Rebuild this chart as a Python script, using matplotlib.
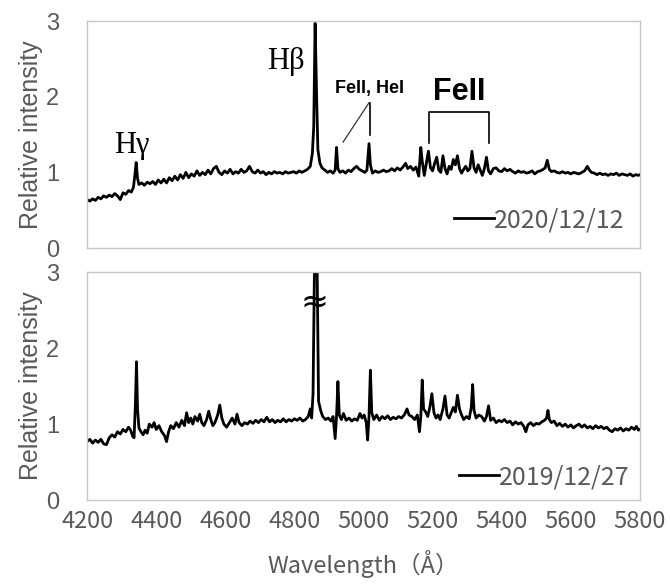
import matplotlib
matplotlib.use("Agg")
import matplotlib.pyplot as plt

# --- spectrum taken 2020/12/12 (upper panel) ---
wave_2020 = [4200, 4208, 4216, 4224, 4232, 4240, 4248, 4256, 4264, 4272, 4280, 4288, 4296, 4304,
             4312, 4320, 4328, 4334, 4338, 4342, 4346, 4350, 4358, 4366, 4374, 4382, 4390, 4398,
             4406, 4414, 4422, 4430, 4438, 4446, 4454, 4462, 4470, 4478, 4486, 4494, 4502, 4510,
             4518, 4526, 4534, 4542, 4550, 4558, 4566, 4574, 4582, 4590, 4598, 4606, 4614, 4622,
             4630, 4638, 4646, 4654, 4662, 4670, 4678, 4686, 4694, 4702, 4710, 4718, 4726, 4734,
             4742, 4750, 4758, 4766, 4774, 4782, 4790, 4798, 4806, 4814, 4822, 4830, 4838, 4846,
             4852, 4856, 4860, 4864, 4868, 4874, 4880, 4888, 4896, 4904, 4912, 4918, 4922, 4926,
             4932, 4940, 4948, 4956, 4964, 4972, 4980, 4988, 4996, 5004, 5010, 5016, 5020, 5026,
             5034, 5042, 5050, 5058, 5066, 5074, 5082, 5090, 5098, 5106, 5114, 5122, 5128, 5136,
             5144, 5152, 5160, 5166, 5170, 5176, 5182, 5188, 5194, 5200, 5206, 5212, 5218, 5224,
             5230, 5236, 5242, 5248, 5254, 5260, 5266, 5272, 5278, 5284, 5290, 5296, 5302, 5308,
             5314, 5320, 5326, 5332, 5338, 5344, 5350, 5356, 5362, 5368, 5376, 5384, 5392, 5400,
             5408, 5416, 5424, 5432, 5440, 5448, 5456, 5464, 5472, 5480, 5488, 5496, 5504, 5512,
             5520, 5526, 5532, 5538, 5544, 5552, 5560, 5568, 5576, 5584, 5592, 5600, 5608, 5616,
             5624, 5632, 5640, 5648, 5654, 5660, 5668, 5676, 5684, 5692, 5700, 5708, 5716, 5724,
             5732, 5740, 5748, 5756, 5764, 5772, 5780, 5788, 5796, 5800]
flux_2020 = [0.64, 0.62, 0.65, 0.63, 0.67, 0.65, 0.69, 0.67, 0.70, 0.68, 0.72, 0.69, 0.64, 0.73,
             0.71, 0.76, 0.74, 0.80, 0.95, 1.13, 0.92, 0.84, 0.86, 0.83, 0.87, 0.85, 0.88, 0.84,
             0.90, 0.86, 0.91, 0.86, 0.93, 0.89, 0.95, 0.90, 0.97, 0.92, 1.00, 0.93, 0.98, 0.95,
             1.02, 0.96, 1.00, 0.97, 1.03, 0.98, 1.05, 1.08, 1.00, 0.97, 1.02, 0.99, 1.04, 0.98,
             1.01, 0.99, 1.04, 1.00, 1.02, 1.08, 1.01, 0.99, 1.03, 0.99, 1.01, 0.97, 1.00, 0.98,
             1.01, 0.99, 1.00, 0.98, 1.01, 0.99, 1.00, 1.01, 0.99, 1.02, 1.00, 1.02, 1.04, 1.08,
             1.25, 1.60, 2.97, 2.10, 1.30, 1.12, 1.06, 1.03, 1.00, 1.02, 0.99, 1.03, 1.33, 1.05,
             1.00, 1.02, 0.99, 1.03, 1.01, 1.05, 1.08, 1.04, 1.02, 1.00, 1.03, 1.38, 1.10, 0.99,
             1.02, 1.00, 1.01, 1.03, 1.01, 1.02, 1.05, 1.02, 1.06, 1.03, 1.07, 1.12, 1.05, 1.08,
             1.03, 1.07, 0.95, 1.33, 1.15, 0.96, 1.12, 1.28, 1.06, 1.02, 1.12, 1.20, 1.03, 1.00,
             1.22, 1.05, 0.98, 1.08, 1.04, 1.17, 1.10, 1.22, 1.05, 0.99, 1.04, 1.08, 1.02, 1.05,
             1.28, 1.06, 1.00, 1.10, 1.03, 0.96, 1.05, 1.20, 1.02, 0.98, 1.05, 1.06, 1.02, 1.01,
             1.05, 1.02, 1.04, 1.01, 0.99, 1.02, 1.00, 1.01, 0.99, 1.00, 1.02, 0.98, 1.01, 1.02,
             1.04, 1.06, 1.16, 1.04, 1.01, 1.02, 1.00, 0.99, 1.01, 0.99, 1.00, 0.98, 1.00, 0.99,
             0.98, 1.00, 1.02, 1.08, 1.03, 1.00, 0.99, 0.97, 0.99, 0.97, 0.98, 0.96, 0.98, 0.97,
             0.99, 0.96, 0.98, 0.97, 0.96, 0.98, 0.95, 0.97, 0.96, 0.97]

# --- spectrum taken 2019/12/27 (lower panel), H-beta runs off the top ---
wave_2019 = [4200, 4208, 4216, 4224, 4232, 4240, 4248, 4256, 4264, 4272, 4280, 4288, 4296, 4304,
             4312, 4320, 4326, 4332, 4336, 4340, 4343, 4346, 4350, 4356, 4362, 4368, 4374, 4380,
             4388, 4394, 4400, 4408, 4416, 4424, 4430, 4436, 4442, 4450, 4458, 4466, 4474, 4482,
             4488, 4494, 4500, 4506, 4512, 4520, 4526, 4532, 4538, 4546, 4552, 4558, 4564, 4570,
             4578, 4584, 4590, 4596, 4604, 4612, 4620, 4628, 4634, 4640, 4648, 4656, 4664, 4672,
             4680, 4688, 4696, 4704, 4712, 4720, 4728, 4736, 4744, 4752, 4760, 4768, 4776, 4784,
             4792, 4800, 4808, 4816, 4824, 4832, 4840, 4846, 4850, 4854, 4858, 4862, 4866, 4870,
             4876, 4882, 4890, 4898, 4906, 4912, 4918, 4922, 4926, 4930, 4936, 4942, 4950, 4958,
             4966, 4974, 4982, 4990, 4996, 5002, 5008, 5012, 5016, 5020, 5024, 5030, 5038, 5046,
             5054, 5062, 5070, 5078, 5086, 5094, 5102, 5110, 5118, 5126, 5132, 5140, 5148, 5156,
             5162, 5166, 5170, 5174, 5180, 5186, 5192, 5198, 5204, 5210, 5216, 5222, 5230, 5236,
             5242, 5248, 5254, 5260, 5266, 5272, 5278, 5284, 5290, 5298, 5306, 5312, 5316, 5320,
             5326, 5334, 5342, 5350, 5356, 5362, 5368, 5376, 5384, 5392, 5400, 5408, 5416, 5424,
             5432, 5440, 5448, 5456, 5464, 5470, 5476, 5484, 5492, 5500, 5508, 5516, 5524, 5530,
             5534, 5538, 5544, 5552, 5560, 5568, 5576, 5584, 5592, 5600, 5608, 5616, 5624, 5632,
             5640, 5648, 5656, 5664, 5672, 5680, 5688, 5696, 5704, 5712, 5720, 5728, 5736, 5744,
             5752, 5760, 5768, 5776, 5784, 5790, 5796, 5800]
flux_2019 = [0.77, 0.80, 0.75, 0.79, 0.76, 0.80, 0.74, 0.73, 0.82, 0.86, 0.83, 0.90, 0.87, 0.93,
             0.90, 0.96, 0.92, 0.84, 0.82, 1.30, 1.82, 1.20, 0.95, 0.90, 0.86, 0.92, 0.88, 1.00,
             0.96, 1.02, 0.93, 0.98, 0.90, 0.85, 0.77, 0.90, 0.98, 0.94, 1.02, 0.96, 1.05, 0.98,
             1.15, 1.02, 1.08, 1.00, 1.10, 1.04, 1.13, 1.02, 0.98, 1.06, 1.17, 1.06, 0.98, 1.02,
             1.12, 1.25, 1.08, 1.00, 0.96, 1.02, 1.08, 1.00, 1.13, 1.02, 0.98, 1.02, 1.00, 1.04,
             1.01, 1.05, 1.02, 1.06, 1.03, 1.09, 1.03, 1.06, 1.02, 1.05, 1.03, 1.07, 1.03, 1.06,
             1.04, 1.07, 1.05, 1.08, 1.04, 1.06, 1.10, 1.20, 1.08, 1.40, 3.00, 3.60, 3.00, 1.30,
             1.18, 1.10, 1.06, 1.08, 1.04, 1.10, 0.81, 1.10, 1.56, 1.12, 1.06, 1.14, 1.05, 1.08,
             1.04, 1.07, 1.05, 1.14, 1.08, 1.12, 1.02, 0.79, 1.10, 1.71, 1.15, 1.06, 1.12, 1.05,
             1.10, 1.07, 1.11, 1.06, 1.09, 1.07, 1.10, 1.08, 1.12, 1.20, 1.12, 1.10, 1.06, 1.12,
             0.90, 1.10, 1.58, 1.20, 1.16, 1.10, 1.22, 1.40, 1.15, 1.08, 1.12, 1.06, 1.20, 1.37,
             1.12, 1.08, 1.15, 1.22, 1.16, 1.38, 1.20, 1.12, 1.06, 1.10, 1.07, 1.22, 1.52, 1.18,
             1.08, 1.12, 1.10, 1.04, 1.10, 1.24, 1.05, 1.08, 1.02, 1.05, 1.03, 1.06, 1.02, 1.04,
             0.99, 1.03, 1.00, 1.02, 0.97, 0.90, 0.99, 1.02, 0.98, 1.01, 1.00, 1.03, 1.05, 1.08,
             1.18, 1.06, 1.02, 1.04, 0.98, 1.01, 0.97, 1.00, 0.96, 0.99, 0.95, 0.98, 1.00, 0.96,
             0.99, 0.95, 0.97, 0.94, 0.98, 0.95, 0.97, 0.94, 0.96, 0.92, 0.90, 0.94, 0.92, 0.95,
             0.91, 0.94, 0.92, 0.96, 0.93, 0.97, 0.92, 0.93]

x_ticks = [4200, 4400, 4600, 4800, 5000, 5200, 5400, 5600, 5800]
y_ticks = [0, 1, 2, 3]

gray = '#595959'
frame = '#c8c8c8'
jp = ['Noto Sans CJK JP', 'DejaVu Sans']

fig = plt.figure(figsize=(6.7, 5.85), dpi=100)
ax1 = fig.add_axes([0.130, 0.576, 0.825, 0.388])
ax2 = fig.add_axes([0.130, 0.145, 0.825, 0.390])

panels = [(ax1, wave_2020, flux_2020, '2020/12/12', 0.2),
          (ax2, wave_2019, flux_2019, '2019/12/27', 0.0)]

for ax, w, f, lab, pad in panels:
    ax.plot(w, f, color='black', lw=2.0, label=lab)
    ax.set_xlim(4200, 5800)
    ax.set_ylim(0, 3)
    ax.set_yticks(y_ticks)
    ax.set_xticks(x_ticks)
    ax.tick_params(axis='y', length=0, labelcolor=gray, pad=20)
    ax.tick_params(axis='x', length=0, labelcolor=gray, pad=7)
    for t in ax.get_yticklabels():
        t.set_fontsize(17)
        t.set_family('Liberation Sans')
    for s in ax.spines.values():
        s.set_color(frame)
        s.set_linewidth(1)
    ax.set_ylabel('Relative intensity', fontsize=18, color=gray,
                  family='Liberation Sans', labelpad=2)
    leg = ax.legend(loc='lower right', frameon=False, handlelength=1.6,
                    handletextpad=0.0, prop={'family': jp, 'size': 18},
                    borderaxespad=pad)
    for t in leg.get_texts():
        t.set_color(gray)

ax1.set_xticklabels([])
ax2.set_xticklabels([str(v) for v in x_ticks], fontsize=17, family=jp)
ax2.set_xlabel('Wavelength（Å）', fontsize=17, color=gray, family=jp, labelpad=12)

# line labels on the upper panel
ax1.text(4330, 1.36, 'Hγ', fontsize=22, family='Liberation Serif', ha='center', va='center')
ax1.text(4776, 2.46, 'Hβ', fontsize=22, family='Liberation Serif', ha='center', va='center')
ax1.text(5016, 2.11, 'FeII, HeI', fontsize=13, fontweight='bold',
         family='Liberation Sans', ha='center', va='center')
ax1.plot([4941, 5016], [1.40, 1.92], color='#333333', lw=0.9)
ax1.plot([5019, 5019], [1.92, 1.49], color='black', lw=1.2)
ax1.text(5276, 2.06, 'FeII', fontsize=22, fontweight='bold',
         family='Liberation Sans', ha='center', va='center')
ax1.plot([5190, 5190, 5363, 5363], [1.39, 1.80, 1.80, 1.39], color='black', lw=1.2)

# broken-axis mark on the clipped H-beta line
ax2.text(4858, 2.6, '≈', fontsize=24, ha='center', va='center', color='black')

fig.savefig('out.png', dpi=100)
